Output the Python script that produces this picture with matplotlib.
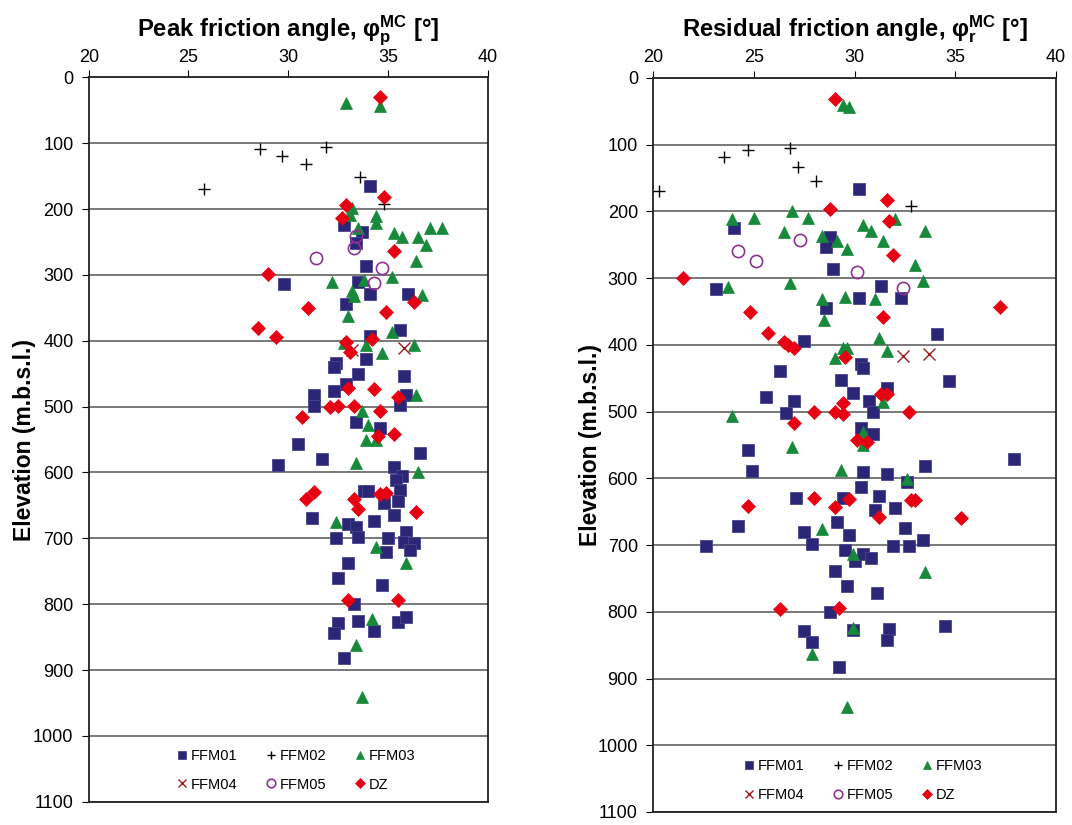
import matplotlib
matplotlib.use('Agg')
import matplotlib.pyplot as plt

# ---- data: (friction angle [deg], elevation [m.b.s.l.]) ----
# Peak friction angle panel
peak_ffm01_x = [34.1, 32.8, 33.7, 33.4, 33.9, 29.8, 33.5, 34.1, 36.0, 32.9, 35.6, 34.1, 33.9, 32.4, 32.3, 33.5,
                35.8, 32.9, 32.3, 31.3, 35.9, 35.6, 31.3, 33.4, 34.6, 30.5, 31.7, 29.5, 36.6, 35.3, 35.7, 35.4,
                33.8, 34.0, 35.6, 34.8, 35.5, 35.3, 31.2, 33.0, 33.4, 33.5, 32.4, 34.3, 35.0, 35.9, 35.8, 36.3,
                36.1, 34.9, 33.0, 32.5, 34.7, 33.3, 32.5, 33.5, 35.5, 35.9, 32.3, 34.3, 32.8]
peak_ffm01_y = [165, 224, 235, 252, 286, 314, 310, 329, 329, 344, 383, 392, 427, 434, 440, 450,
                453, 465, 476, 482, 482, 498, 499, 524, 532, 557, 580, 588, 570, 592, 605, 612,
                628, 628, 626, 647, 644, 665, 669, 678, 683, 698, 700, 674, 699, 690, 705, 707,
                718, 721, 738, 760, 771, 799, 828, 825, 827, 819, 843, 840, 882]
peak_ffm02_x = [28.6, 29.7, 30.9, 31.9, 33.6, 34.8, 25.8]
peak_ffm02_y = [109, 119, 132, 105, 152, 192, 169]
peak_ffm03_x = [32.9, 34.6, 33.2, 33.1, 34.4, 34.4, 33.5, 35.3, 35.7, 36.5, 37.1, 37.7, 36.9, 36.4, 33.8, 35.2,
                32.2, 33.2, 33.3, 36.7, 33.0, 35.2, 33.9, 32.8, 34.7, 36.3, 36.4, 33.7, 34.0, 33.9, 34.4, 33.4,
                36.5, 32.4, 34.4, 35.9, 34.2, 33.4, 33.7]
peak_ffm03_y = [39, 44, 199, 209, 211, 221, 229, 236, 243, 242, 228, 228, 254, 279, 307, 303,
                311, 324, 332, 330, 362, 387, 406, 404, 418, 407, 482, 506, 528, 551, 550, 586,
                600, 675, 713, 738, 823, 862, 941]
peak_ffm04_x = [33.2, 35.8]
peak_ffm04_y = [414, 411]
peak_ffm05_x = [33.4, 33.3, 31.4, 34.7, 34.3]
peak_ffm05_y = [241, 259, 275, 290, 313]
peak_dz_x = [34.6, 34.8, 32.9, 32.7, 35.3, 29.0, 31.0, 34.9, 36.3, 28.5, 29.4, 32.9, 33.1, 34.2, 33.0, 34.3,
             35.5, 32.1, 32.5, 33.3, 34.6, 30.7, 34.5, 35.3, 31.3, 30.9, 33.3, 33.5, 34.6, 34.9, 36.4, 33.0,
             35.5]
peak_dz_y = [30, 182, 194, 213, 264, 298, 350, 356, 341, 380, 394, 402, 417, 398, 472, 473,
             486, 500, 499, 499, 507, 516, 545, 542, 629, 640, 641, 656, 632, 631, 660, 794,
             793]

# Residual friction angle panel
res_ffm01_x = [30.2, 24.0, 28.8, 28.6, 28.9, 23.1, 28.6, 27.5, 26.3, 29.3, 25.6, 27.0, 26.6, 29.9, 31.3, 30.2,
               32.3, 34.1, 30.3, 30.4, 34.7, 31.6, 30.7, 30.9, 24.7, 24.9, 27.1, 29.4, 29.1, 24.2, 27.5, 29.7,
               22.6, 27.9, 29.5, 29.0, 29.6, 28.8, 27.5, 27.9, 29.2, 30.3, 30.9, 37.9, 33.5, 30.4, 31.6, 32.6,
               30.3, 31.2, 31.0, 32.0, 32.5, 31.9, 32.7, 33.4, 30.0, 30.4, 30.8, 31.1, 34.5, 29.9, 31.7, 31.6]
res_ffm01_y = [166, 225, 238, 254, 287, 316, 345, 394, 439, 452, 478, 484, 502, 472, 312, 330,
               330, 384, 428, 434, 454, 464, 484, 501, 558, 589, 629, 629, 666, 671, 680, 685,
               701, 699, 708, 739, 761, 800, 829, 845, 883, 524, 533, 571, 581, 591, 594, 605,
               613, 627, 648, 645, 675, 701, 701, 692, 724, 713, 719, 772, 821, 828, 826, 842]
res_ffm02_x = [20.3, 23.5, 24.7, 26.8, 27.2, 28.1, 32.8]
res_ffm02_y = [170, 119, 108, 105, 133, 154, 192]
res_ffm03_x = [29.4, 29.7, 23.9, 25.0, 26.9, 27.7, 26.5, 28.4, 29.1, 29.6, 23.7, 26.8, 28.4, 29.5, 28.5, 29.4,
               29.6, 29.0, 23.9, 32.0, 30.4, 30.8, 33.5, 31.4, 33.0, 33.4, 31.0, 31.2, 31.6, 31.4, 26.9, 29.3,
               28.4, 29.9, 27.9, 29.6, 30.4, 30.4, 32.6, 33.5, 29.9]
res_ffm03_y = [40, 43, 211, 210, 199, 210, 231, 237, 244, 256, 313, 308, 332, 328, 363, 404,
               405, 419, 506, 212, 220, 229, 230, 245, 281, 304, 331, 389, 409, 485, 553, 588,
               676, 714, 863, 942, 530, 550, 601, 740, 824]
res_ffm04_x = [32.4, 33.7]
res_ffm04_y = [416, 413]
res_ffm05_x = [24.2, 25.1, 27.3, 30.1, 32.4]
res_ffm05_y = [259, 275, 243, 291, 315]
res_dz_x = [29.0, 28.8, 21.5, 24.8, 25.7, 26.5, 26.7, 27.0, 29.5, 29.4, 28.0, 29.0, 29.4, 31.6, 31.7, 31.9,
            37.2, 31.4, 31.3, 31.6, 32.7, 27.0, 28.0, 24.7, 29.0, 29.7, 26.3, 29.2, 30.1, 30.6, 32.8, 33.0,
            31.2, 35.3]
res_dz_y = [31, 196, 300, 351, 382, 395, 400, 404, 418, 487, 500, 500, 504, 183, 215, 265,
            343, 358, 474, 474, 500, 517, 630, 642, 643, 631, 796, 794, 543, 546, 632, 632,
            658, 660]

names = ['FFM01', 'FFM02', 'FFM03', 'FFM04', 'FFM05', 'DZ']

plt.rcParams['font.family'] = ['Liberation Sans', 'DejaVu Sans']
plt.rcParams['mathtext.fontset'] = 'custom'
plt.rcParams['mathtext.rm'] = 'Liberation Sans'
plt.rcParams['mathtext.bf'] = 'Liberation Sans:bold'
plt.rcParams['mathtext.it'] = 'Liberation Sans:italic'

styles = {
    'FFM01': dict(marker='s', color='#2b2676', ms=8.5, mew=0.6, mec='#4a4590'),
    'FFM02': dict(marker='+', color='black', ms=9, mew=1.0),
    'FFM03': dict(marker='^', color='#17893a', ms=9, mew=0.5),
    'FFM04': dict(marker='x', color='#a01c1c', ms=9, mew=1.0),
    'FFM05': dict(marker='o', color='#8e3393', mfc='none', ms=8.8, mew=1.2),
    'DZ': dict(marker='D', color='#e60012', ms=7, mew=0.5),
}


def drawPanel(ax, series, title, ylabel_x):
    handles = {}
    for name, (xs, ys) in zip(names, series):
        line, = ax.plot(xs, ys, linestyle='none', label=name, **styles[name])
        handles[name] = line

    ax.set_xlim(20, 40)
    ax.set_ylim(1100, 0)
    ax.set_xticks(range(20, 41, 5))
    ax.set_yticks(range(0, 1101, 100))
    ax.xaxis.tick_top()
    ax.xaxis.set_label_position('top')
    ax.set_xlabel(title, fontsize=17.2, fontweight='bold', labelpad=9)
    ax.set_ylabel('Elevation (m.b.s.l.)', fontsize=16.5, fontweight='bold')
    ax.yaxis.set_label_coords(ylabel_x, 0.5)
    ax.tick_params(axis='x', direction='out', length=5, pad=3.5, labelsize=13)
    ax.tick_params(axis='y', direction='out', length=5, pad=6, labelsize=13)
    ax.yaxis.grid(True, color='#6e6e6e', linewidth=1.3)
    ax.set_axisbelow(True)
    for sp in ax.spines.values():
        sp.set_color('#222222')
        sp.set_linewidth(1.3)

    order = ['FFM01', 'FFM04', 'FFM02', 'FFM05', 'FFM03', 'DZ']
    ax.legend([handles[n] for n in order], order, ncol=3, loc='lower center',
              bbox_to_anchor=(0.52, 0.0), frameon=False, fontsize=10.5, markerscale=0.7,
              handlelength=0.8, handletextpad=0.2, columnspacing=1.9, labelspacing=1.0,
              borderaxespad=0.3)


fig = plt.figure(figsize=(10.72, 8.25), dpi=100)
ax1 = fig.add_axes([0.0828, 0.0282, 0.372, 0.878])
ax2 = fig.add_axes([0.6094, 0.0158, 0.3757, 0.8897])

drawPanel(ax1, [(peak_ffm01_x, peak_ffm01_y), (peak_ffm02_x, peak_ffm02_y), (peak_ffm03_x, peak_ffm03_y),
                (peak_ffm04_x, peak_ffm04_y), (peak_ffm05_x, peak_ffm05_y), (peak_dz_x, peak_dz_y)],
          r'Peak friction angle, $\mathbf{φ_p^{MC}}$ [°]', -0.132)
drawPanel(ax2, [(res_ffm01_x, res_ffm01_y), (res_ffm02_x, res_ffm02_y), (res_ffm03_x, res_ffm03_y),
                (res_ffm04_x, res_ffm04_y), (res_ffm05_x, res_ffm05_y), (res_dz_x, res_dz_y)],
          r'Residual friction angle, $\mathbf{φ_r^{MC}}$ [°]', -0.127)

plt.savefig('out.png', dpi=100)
